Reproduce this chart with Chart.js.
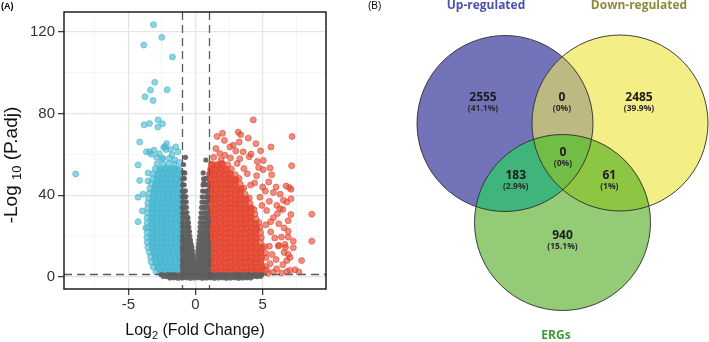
<!DOCTYPE html>
<html>
<head>
<meta charset="utf-8">
<title>DEGs and ERGs</title>
<script src="https://cdn.jsdelivr.net/npm/chart.js@4.4.1/dist/chart.umd.min.js"></script>
<style>
    html, body { margin: 0; padding: 0; background: #fff; }
    #wrap { position: relative; width: 709px; height: 342px; }
    #volcanoBox { position: absolute; left: 0; top: 0; width: 360px; height: 342px; }
    #vennBox { position: absolute; left: 360px; top: 0; width: 349px; height: 342px; }
</style>
</head>
<body>
<div id="wrap">
    <div id="volcanoBox"><canvas id="volcano"></canvas></div>
    <div id="vennBox"><canvas id="venn"></canvas></div>
</div>
<script>
// ---- volcano plot: [log2 fold change, -log10 adjusted p] ----
// up-regulated, scattered around the edge of the cloud
const upGenes = [
    [4.3,76.8],[7.19,68.7],[1.61,68.7],[2.01,70.3],[3.18,70.8],[3.36,69.6],[3.93,67.9],[4.5,65.2],
    [5.62,63.6],[2.81,64.4],[3.25,66.0],[2.56,63.6],[1.51,62.8],[1.81,60.4],[4.85,61.7],[4.13,60.1],
    [3.55,61.2],[3.0,61.6],[5.05,57.0],[7.16,54.4],[2.2,59.5],[1.35,58.5],[2.6,58.2],[3.3,57.8],
    [4.0,58.8],[1.9,57.2],[4.6,56.5],[2.15,66.8],
    [5.67,50.0],[5.45,46.5],[6.0,44.0],[6.74,44.5],[7.11,42.9],[7.11,38.2],[6.3,40.5],[5.8,41.3],
    [6.05,35.0],[5.5,37.0],[6.5,33.0],[7.1,30.5],[6.9,27.5],[6.2,26.0],[5.8,29.0],[6.6,24.0],
    [7.28,17.5],[7.28,14.3],[7.04,9.5],[6.6,12.0],[6.2,15.5],[5.9,19.0],[5.6,22.0],[6.4,19.5],
    [6.0,8.5],[5.7,11.0],[6.5,6.0],[6.04,4.0],[6.8,2.6],[6.4,1.9],[7.41,3.5],[7.9,8.0],
    [8.66,17.5],[8.66,30.7],[5.04,52.5],[4.7,53.5],[4.55,49.5],[4.4,46.0],[5.0,44.0],[4.8,39.0],
    [5.3,32.5],[5.6,27.0],[5.5,15.0],[5.55,6.5],[5.3,3.3],[7.7,2.4],[5.8,2.3],[3.85,50.5],
    [3.6,53.0],[4.1,45.0],[4.95,35.0],[5.25,25.5],[3.1,55.5],[6.7,14.5],[6.1,31.0],[6.9,19.5],
    [6.55,37.5],[5.2,42.0],[6.99,43.7],[5.55,53.3],[6.8,36.6],[6.3,33.4],[6.9,22.3],[6.66,15.9],
    [6.17,15.1],[6.9,11.1],[6.8,8.0],[7.04,3.2],[5.4,1.8],
    [5.2,5.1],[5.25,9.4],[5.22,11.7],[5.15,14.8],[4.85,16.8],[4.9,19.2],[4.85,21.6],[4.8,24.2],
    [4.72,26.6],[4.5,28.4],[4.42,30.8],[4.35,33.0],[4.05,36.1],[4.0,38.6],[3.7,40.5],[3.6,43.5],
    [3.33,45.5],[3.25,48.2],[2.96,50.0],[2.67,52.8],[2.4,54.9]
];
// up-regulated, packed body of the cloud
const upCore = [
    [1.08,2.3],[1.45,2.1],[1.82,2.6],[2.2,2.2],[2.6,2.5],[2.98,2.0],[3.35,2.4],[3.72,2.2],[4.1,2.7],[4.48,2.1],[4.9,2.5],
    [1.12,4.8],[1.5,4.4],[1.88,4.9],[2.25,4.5],[2.64,4.7],[3.02,4.3],[3.4,4.8],[3.78,4.5],[4.16,4.9],[4.55,4.4],[4.95,4.7],
    [1.05,7.1],[1.42,6.8],[1.8,7.3],[2.18,6.9],[2.56,7.2],[2.95,6.8],[3.33,7.1],[3.7,6.9],[4.08,7.3],[4.47,6.8],[4.85,7.2],
    [1.1,9.5],[1.48,9.2],[1.86,9.7],[2.24,9.3],[2.62,9.6],[3.0,9.2],[3.38,9.5],[3.76,9.3],[4.14,9.7],[4.52,9.2],[4.9,9.6],
    [1.06,11.9],[1.44,11.6],[1.82,12.0],[2.2,11.7],[2.58,12.1],[2.96,11.6],[3.34,11.9],[3.72,11.7],[4.1,12.1],[4.48,11.6],[4.86,12.0],
    [1.12,14.3],[1.5,14.0],[1.88,14.5],[2.26,14.1],[2.64,14.4],[3.02,14.0],[3.4,14.3],[3.78,14.1],[4.16,14.5],[4.54,14.0],[4.92,14.4],
    [1.05,16.7],[1.43,16.4],[1.81,16.9],[2.19,16.5],[2.57,16.8],[2.95,16.4],[3.33,16.7],[3.71,16.5],[4.09,16.9],[4.47,16.4],
    [1.1,19.1],[1.48,18.8],[1.86,19.3],[2.24,18.9],[2.62,19.2],[3.0,18.8],[3.38,19.1],[3.76,18.9],[4.14,19.3],[4.52,18.8],
    [1.06,21.5],[1.44,21.2],[1.82,21.7],[2.2,21.3],[2.58,21.6],[2.96,21.2],[3.34,21.5],[3.72,21.3],[4.1,21.7],[4.48,21.2],
    [1.12,23.9],[1.5,23.6],[1.88,24.1],[2.26,23.7],[2.64,24.0],[3.02,23.6],[3.4,23.9],[3.78,23.7],[4.16,24.1],[4.54,23.6],
    [1.05,26.3],[1.43,26.0],[1.81,26.5],[2.19,26.1],[2.57,26.4],[2.95,26.0],[3.33,26.3],[3.71,26.1],[4.09,26.5],[4.47,26.0],
    [1.1,28.7],[1.48,28.4],[1.86,28.9],[2.24,28.5],[2.62,28.8],[3.0,28.4],[3.38,28.7],[3.76,28.5],[4.14,28.9],
    [1.06,31.1],[1.44,30.8],[1.82,31.3],[2.2,30.9],[2.58,31.2],[2.96,30.8],[3.34,31.1],[3.72,30.9],[4.1,31.3],
    [1.12,33.5],[1.5,33.2],[1.88,33.7],[2.26,33.3],[2.64,33.6],[3.02,33.2],[3.4,33.5],[3.78,33.3],[4.15,33.7],
    [1.05,35.9],[1.43,35.6],[1.81,36.1],[2.19,35.7],[2.57,36.0],[2.95,35.6],[3.33,35.9],[3.71,35.7],
    [1.1,38.3],[1.48,38.0],[1.86,38.5],[2.24,38.1],[2.62,38.4],[3.0,38.0],[3.38,38.3],[3.76,38.1],
    [1.06,40.7],[1.44,40.4],[1.82,40.9],[2.2,40.5],[2.58,40.8],[2.96,40.4],[3.34,40.7],
    [1.12,43.1],[1.5,42.8],[1.88,43.3],[2.26,42.9],[2.64,43.2],[3.02,42.8],[3.4,43.1],
    [1.05,45.5],[1.43,45.2],[1.81,45.7],[2.19,45.3],[2.57,45.6],[2.95,45.2],
    [1.1,47.9],[1.48,47.6],[1.86,48.1],[2.24,47.7],[2.62,48.0],[3.0,47.6],
    [1.06,50.3],[1.44,50.0],[1.82,50.5],[2.2,50.1],[2.58,50.4],
    [1.15,52.7],[1.53,52.4],[1.91,52.9],[2.29,52.5],
    [1.2,55.1],[1.6,54.8],[1.98,55.3]
];

// down-regulated, outliers and the ragged edge
const downGenes = [
    [-3.13,123.4],[-2.51,117.2],[-3.86,113.4],[-1.72,107.6],[-3.04,95.2],[-3.36,91.4],[-2.12,91.6],
    [-3.76,88.2],[-3.16,86.3],[-3.43,75.0],[-3.83,74.4],[-2.79,76.8],[-2.46,74.9],[-2.81,73.3],
    [-4.16,66.0],[-8.93,50.4],[-3.09,62.0],[-3.66,61.2],[-3.3,60.0],[-2.37,63.3],[-2.16,65.2],
    [-1.47,63.6],[-2.51,57.6],[-1.3,61.2],[-4.28,54.8],[-4.16,47.2],[-4.28,39.0],[-3.91,40.5],
    [-3.96,32.3],[-4.28,27.0],[-3.7,24.0],[-3.54,46.9],[-3.54,50.9],[-2.2,62.3],[-2.28,63.8],
    [-1.75,59.8],[-1.55,57.2],[-2.9,58.5],[-1.95,58.0],[-1.2,56.0],[-2.7,60.2],[-1.85,62.4],
    [-3.41,61.2],[-2.42,58.0],
    [-2.95,2.5],[-3.15,4.9],[-3.3,7.3],[-3.35,9.7],[-3.45,12.1],[-3.55,14.5],[-3.6,16.9],
    [-3.62,19.3],[-3.6,21.7],[-3.58,24.1],[-3.6,26.5],[-3.62,28.9],[-3.58,31.3],[-3.56,33.7],
    [-3.55,36.1],[-3.5,38.5],[-3.45,40.9],[-3.4,43.3],[-3.3,45.7],[-3.2,48.1],[-3.15,50.5],
    [-3.0,52.9],[-2.85,55.4],[-2.4,55.0],[-2.0,55.5],[-1.6,55.1]
];
// down-regulated, packed body
const downCore = [
    [-2.6,2.2],[-2.24,2.6],[-1.88,2.3],[-1.52,2.6],[-1.16,2.2],
    [-2.8,4.6],[-2.44,5.0],[-2.08,4.7],[-1.72,5.0],[-1.36,4.6],[-1.06,4.9],
    [-2.94,7.0],[-2.58,7.4],[-2.22,7.1],[-1.86,7.4],[-1.5,7.0],[-1.14,7.3],
    [-3.0,9.4],[-2.64,9.8],[-2.28,9.5],[-1.92,9.8],[-1.56,9.4],[-1.2,9.7],
    [-3.1,11.8],[-2.74,12.2],[-2.38,11.9],[-2.02,12.2],[-1.66,11.8],[-1.3,12.1],[-1.05,11.9],
    [-3.2,14.2],[-2.84,14.6],[-2.48,14.3],[-2.12,14.6],[-1.76,14.2],[-1.4,14.5],[-1.08,14.3],
    [-3.25,16.6],[-2.9,17.0],[-2.54,16.7],[-2.18,17.0],[-1.82,16.6],[-1.46,16.9],[-1.1,16.7],
    [-3.27,19.0],[-2.92,19.4],[-2.56,19.1],[-2.2,19.4],[-1.84,19.0],[-1.48,19.3],[-1.12,19.1],
    [-3.24,21.4],[-2.88,21.8],[-2.52,21.5],[-2.16,21.8],[-1.8,21.4],[-1.44,21.7],[-1.08,21.5],
    [-3.22,23.8],[-2.86,24.2],[-2.5,23.9],[-2.14,24.2],[-1.78,23.8],[-1.42,24.1],[-1.06,23.9],
    [-3.25,26.2],[-2.9,26.6],[-2.54,26.3],[-2.18,26.6],[-1.82,26.2],[-1.46,26.5],[-1.1,26.3],
    [-3.27,28.6],[-2.92,29.0],[-2.56,28.7],[-2.2,29.0],[-1.84,28.6],[-1.48,28.9],[-1.12,28.7],
    [-3.22,31.0],[-2.86,31.4],[-2.5,31.1],[-2.14,31.4],[-1.78,31.0],[-1.42,31.3],[-1.06,31.1],
    [-3.2,33.4],[-2.84,33.8],[-2.48,33.5],[-2.12,33.8],[-1.76,33.4],[-1.4,33.7],[-1.08,33.5],
    [-3.2,35.8],[-2.84,36.2],[-2.48,35.9],[-2.12,36.2],[-1.76,35.8],[-1.4,36.1],[-1.06,35.9],
    [-3.15,38.2],[-2.8,38.6],[-2.44,38.3],[-2.08,38.6],[-1.72,38.2],[-1.36,38.5],[-1.08,38.3],
    [-3.1,40.6],[-2.74,41.0],[-2.38,40.7],[-2.02,41.0],[-1.66,40.6],[-1.3,40.9],[-1.06,40.7],
    [-3.05,43.0],[-2.7,43.4],[-2.34,43.1],[-1.98,43.4],[-1.62,43.0],[-1.26,43.3],
    [-2.95,45.4],[-2.6,45.8],[-2.24,45.5],[-1.88,45.8],[-1.52,45.4],[-1.18,45.7],
    [-2.85,47.8],[-2.5,48.2],[-2.14,47.9],[-1.78,48.2],[-1.42,47.8],[-1.12,48.1],
    [-2.8,50.2],[-2.44,50.6],[-2.08,50.3],[-1.72,50.6],[-1.36,50.2],
    [-2.64,52.6],[-2.28,53.0],[-1.92,52.7],[-1.56,53.0],[-1.25,52.6]
];

// not significant
const nsGenes = [
    // left arm of the V
    [-0.98,2.0],[-0.76,2.1],[-0.54,1.9],[-0.32,2.0],[-0.1,2.2],
    [-0.95,3.6],[-0.73,3.5],[-0.51,3.7],[-0.29,3.6],[-0.07,3.8],
    [-0.98,5.4],[-0.76,5.3],[-0.54,5.5],[-0.32,5.4],[-0.1,5.6],
    [-0.96,7.2],[-0.74,7.1],[-0.52,7.3],[-0.3,7.2],[-0.14,7.4],
    [-0.98,9.0],[-0.76,8.9],[-0.54,9.1],[-0.32,9.0],[-0.18,9.2],
    [-0.95,10.8],[-0.73,10.7],[-0.51,10.9],[-0.3,10.8],[-0.2,11.0],
    [-0.97,12.6],[-0.75,12.5],[-0.53,12.7],[-0.32,12.6],[-0.24,12.9],
    [-0.98,14.4],[-0.76,14.3],[-0.54,14.5],[-0.33,14.4],[-0.28,14.8],
    [-0.96,16.2],[-0.74,16.1],[-0.52,16.3],[-0.34,16.2],
    [-0.97,18.0],[-0.75,17.9],[-0.53,18.1],[-0.38,18.0],
    [-0.98,20.0],[-0.76,19.9],[-0.56,20.1],[-0.42,20.0],
    [-0.96,22.2],[-0.74,22.1],[-0.55,22.3],[-0.45,22.2],
    [-0.97,24.4],[-0.76,24.3],[-0.58,24.5],[-0.5,24.4],
    [-0.98,26.6],[-0.78,26.5],[-0.6,26.7],[-0.53,26.6],
    [-0.96,29.0],[-0.78,28.9],[-0.62,29.1],[-0.57,29.0],
    [-0.97,31.4],[-0.8,31.3],[-0.65,31.5],
    [-0.98,34.0],[-0.82,33.9],[-0.68,34.1],
    [-0.96,36.6],[-0.82,36.5],[-0.7,36.7],
    [-0.97,39.2],[-0.84,39.1],[-0.73,39.3],
    [-0.98,42.0],[-0.86,41.9],[-0.76,42.1],
    [-0.96,45.0],[-0.85,45.1],[-0.95,48.0],[-0.84,48.2],
    [-0.93,51.0],[-0.9,55.0],[-0.75,58.5],[-0.8,50.9],
    // right arm of the V
    [0.08,2.0],[0.3,2.1],[0.52,1.9],[0.74,2.0],[0.96,2.2],
    [0.06,3.6],[0.28,3.5],[0.5,3.7],[0.72,3.6],[0.94,3.8],
    [0.09,5.4],[0.31,5.3],[0.53,5.5],[0.75,5.4],[0.97,5.6],
    [0.1,7.2],[0.32,7.1],[0.54,7.3],[0.76,7.2],[0.98,7.4],
    [0.13,9.0],[0.35,8.9],[0.57,9.1],[0.79,9.0],[0.97,9.2],
    [0.16,10.8],[0.37,10.7],[0.58,10.9],[0.8,10.8],[0.98,11.0],
    [0.18,12.6],[0.39,12.5],[0.6,12.7],[0.8,12.6],[0.96,12.8],
    [0.2,14.4],[0.41,14.3],[0.62,14.5],[0.82,14.4],[0.98,14.6],
    [0.23,16.2],[0.44,16.1],[0.64,16.3],[0.84,16.2],[0.97,16.4],
    [0.26,18.0],[0.46,17.9],[0.66,18.1],[0.85,18.0],
    [0.29,20.0],[0.49,19.9],[0.69,20.1],[0.88,20.0],
    [0.31,22.2],[0.51,22.1],[0.71,22.3],[0.9,22.2],
    [0.34,24.4],[0.54,24.3],[0.73,24.5],[0.92,24.4],
    [0.36,26.6],[0.56,26.5],[0.76,26.7],[0.94,26.6],
    [0.39,29.0],[0.58,28.9],[0.78,29.1],[0.95,29.0],
    [0.42,31.4],[0.62,31.3],[0.81,31.5],
    [0.45,34.0],[0.65,33.9],[0.84,34.1],
    [0.48,36.6],[0.68,36.5],[0.86,36.7],
    [0.5,39.2],[0.7,39.1],[0.88,39.3],
    [0.53,42.0],[0.73,41.9],[0.9,42.1],
    [0.56,45.0],[0.76,45.1],[0.6,48.0],[0.78,48.2],
    [0.57,50.9],[0.77,57.2],[0.62,46.0],
    // band along the bottom
    [-2.55,1.1],[-2.3,0.9],[-2.05,1.2],[-1.8,1.0],[-1.55,1.2],[-1.3,0.9],[-1.05,1.1],[-0.8,1.2],
    [-0.55,0.9],[-0.3,1.1],[-0.05,1.2],[0.2,1.0],[0.45,1.2],[0.7,0.9],[0.95,1.1],[1.2,1.2],
    [1.45,0.9],[1.7,1.1],[1.95,1.2],[2.2,1.0],[2.45,1.2],[2.7,0.9],[2.95,1.1],[3.2,1.2],
    [3.45,1.0],[3.7,1.1],[3.95,1.2],[4.2,0.9],[4.45,1.1],[4.7,1.0],[4.95,1.2],
    [-2.4,0.3],[-2.15,0.2],[-1.9,0.4],[-1.65,0.3],[-1.4,0.2],[-1.15,0.4],[-0.9,0.3],[-0.65,0.2],
    [-0.4,0.4],[-0.15,0.3],[0.1,0.2],[0.35,0.4],[0.6,0.3],[0.85,0.2],[1.1,0.4],[1.35,0.3],
    [1.6,0.2],[1.85,0.4],[2.1,0.3],[2.35,0.2],[2.6,0.4],[2.85,0.3],[3.1,0.2],[3.35,0.4],
    [3.6,0.3],[3.85,0.2],[4.1,0.4],[4.35,0.3],[4.6,0.2],[4.85,0.3],
    [-1.9,-0.5],[-1.6,-0.4],[-1.3,-0.6],[-1.0,-0.5],[-0.7,-0.4],[-0.4,-0.6],[-0.1,-0.5],[0.2,-0.4],
    [0.5,-0.6],[0.8,-0.5],[1.1,-0.4],[1.4,-0.6],[1.7,-0.5],[2.0,-0.4],[2.3,-0.6],[2.6,-0.5],
    [2.9,-0.4],[3.2,-0.6],[3.5,-0.5],[3.8,-0.4],[4.1,-0.5]
];

const xTicks = [-7.5, -5, -2.5, 0, 2.5, 5, 7.5];
const xLabelled = [-5, 0, 5];
const yTicks = [0, 20, 40, 60, 80, 100, 120];
const yLabelled = [0, 40, 80, 120];
const fcCutoff = 1;       // |log2 FC|
const padjCutoff = 1.3;   // -log10(0.05)

// ---- venn diagram ----
const vennSets = ['Up-regulated', 'Down-regulated', 'ERGs'];
const vennRegions = ['Up', 'Down', 'ERGs', 'Up&Down', 'Up&ERGs', 'Down&ERGs', 'Up&Down&ERGs'];
const vennCounts = [2555, 2485, 940, 0, 183, 61, 0];

const toPoints = arr => arr.map(p => ({ x: p[0], y: p[1] }));

function gridColour(labelled) {
    return ctx => labelled.includes(ctx.tick && ctx.tick.value) ? '#e5e5e5' : '#f1f1f1';
}
function gridWidth(labelled) {
    return ctx => labelled.includes(ctx.tick && ctx.tick.value) ? 1.3 : 0.7;
}
function tickColour(labelled) {
    return ctx => labelled.includes(ctx.tick && ctx.tick.value) ? '#333' : 'rgba(0,0,0,0)';
}

// text with one subscript piece, drawn left to right from (x, y) baseline
function drawSubText(ctx, parts, x, y, align) {
    let total = 0;
    parts.forEach(p => { ctx.font = p.font; p.w = ctx.measureText(p.text).width; total += p.w; });
    let cx = align === 'center' ? x - total / 2 : x;
    ctx.textAlign = 'left';
    ctx.textBaseline = 'alphabetic';
    parts.forEach(p => {
        ctx.font = p.font;
        ctx.fillText(p.text, cx, y + (p.dy || 0));
        cx += p.w;
    });
}

const volcanoDecor = {
    id: 'volcanoDecor',
    afterDatasetsDraw(chart) {
        const { ctx, chartArea: a, scales: { x, y } } = chart;
        ctx.save();
        ctx.strokeStyle = '#585858';
        ctx.lineWidth = 1.3;
        ctx.setLineDash([8, 5]);
        [-fcCutoff, fcCutoff].forEach(v => {
            const px = Math.round(x.getPixelForValue(v)) + 0.5;
            ctx.beginPath(); ctx.moveTo(px, a.top); ctx.lineTo(px, a.bottom); ctx.stroke();
        });
        const py = Math.round(y.getPixelForValue(padjCutoff)) + 0.5;
        ctx.beginPath(); ctx.moveTo(a.left, py); ctx.lineTo(a.right, py); ctx.stroke();
        ctx.setLineDash([]);

        // panel frame
        ctx.strokeStyle = '#111';
        ctx.lineWidth = 1.4;
        ctx.strokeRect(a.left, a.top, a.right - a.left, a.bottom - a.top);

        ctx.fillStyle = '#111';
        drawSubText(ctx, [
            { text: 'Log', font: '16px "Liberation Sans", Arial, sans-serif' },
            { text: '2', font: '11px "Liberation Sans", Arial, sans-serif', dy: 4 },
            { text: ' (Fold Change)', font: '16px "Liberation Sans", Arial, sans-serif' }
        ], (a.left + a.right) / 2, 335, 'center');

        ctx.translate(17, 165);
        ctx.rotate(-Math.PI / 2);
        drawSubText(ctx, [
            { text: '-Log ', font: '19px "Liberation Sans", Arial, sans-serif' },
            { text: '10', font: '13px "Liberation Sans", Arial, sans-serif', dy: 4 },
            { text: ' (P.adj)', font: '19px "Liberation Sans", Arial, sans-serif' }
        ], 0, 0, 'center');
        ctx.restore();

        ctx.save();
        ctx.fillStyle = '#000';
        ctx.font = 'bold 9px "Liberation Sans", Arial, sans-serif';
        ctx.textAlign = 'left';
        ctx.textBaseline = 'top';
        ctx.fillText('(A)', 1, 2);
        ctx.restore();
    }
};

// loose points keep a visible ring; packed ones blend into a solid cloud
const looseDots = rgb => ({
    pointRadius: 3, pointHoverRadius: 3,
    backgroundColor: `rgba(${rgb},0.62)`,
    borderColor: `rgba(${rgb},0.8)`,
    borderWidth: 0.8
});
const packedDots = rgb => ({
    pointRadius: 3.4, pointHoverRadius: 3.4,
    backgroundColor: `rgba(${rgb},0.92)`,
    borderColor: `rgba(${rgb},0.92)`,
    borderWidth: 0.5
});
const red = '228,72,50';
const blue = '74,183,209';

new Chart(document.getElementById('volcano'), {
    type: 'scatter',
    data: {
        datasets: [
            // grey sits on top so the V stays visible inside the cut-off lines
            {
                label: 'NS', data: toPoints(nsGenes), order: 0,
                pointRadius: 2.6, pointHoverRadius: 2.6,
                backgroundColor: 'rgba(96,96,96,0.95)', borderWidth: 0
            },
            Object.assign({ label: 'Up', data: toPoints(upGenes), order: 1 }, looseDots(red)),
            Object.assign({ label: 'Up core', data: toPoints(upCore), order: 2 }, packedDots(red)),
            Object.assign({ label: 'Down', data: toPoints(downGenes), order: 3 }, looseDots(blue)),
            Object.assign({ label: 'Down core', data: toPoints(downCore), order: 4 }, packedDots(blue))
        ]
    },
    options: {
        responsive: true,
        maintainAspectRatio: false,
        animation: false,
        devicePixelRatio: 1,
        layout: { padding: { top: 5, right: 34, left: 0, bottom: 0 } },
        plugins: { legend: { display: false }, tooltip: { enabled: false } },
        scales: {
            x: {
                type: 'linear', min: -9.8, max: 9.72,
                afterBuildTicks: s => { s.ticks = xTicks.map(v => ({ value: v })); },
                afterFit: s => { s.height = 53; },
                border: { display: false },
                grid: { color: gridColour(xLabelled), lineWidth: gridWidth(xLabelled), tickColor: tickColour(xLabelled), tickLength: 6, tickWidth: 1.2 },
                ticks: {
                    autoSkip: false, maxRotation: 0, padding: 1, color: '#333',
                    font: { family: '"Liberation Sans", Arial, sans-serif', size: 15 },
                    callback: v => xLabelled.includes(v) ? String(v) : ''
                }
            },
            y: {
                type: 'linear', min: -5.9, max: 129.6,
                afterBuildTicks: s => { s.ticks = yTicks.map(v => ({ value: v })); },
                afterFit: s => { s.width = 64; },
                border: { display: false },
                grid: { color: gridColour(yLabelled), lineWidth: gridWidth(yLabelled), tickColor: tickColour(yLabelled), tickLength: 6, tickWidth: 1.2 },
                ticks: {
                    autoSkip: false, padding: 3, color: '#333',
                    font: { family: '"Liberation Sans", Arial, sans-serif', size: 15 },
                    callback: v => yLabelled.includes(v) ? String(v) : ''
                }
            }
        }
    },
    plugins: [volcanoDecor]
});

// ---- venn: three equal circles, each region filled with its own colour ----
const vennDraw = {
    id: 'vennDraw',
    afterDraw(chart) {
        const { ctx, scales: { x, y } } = chart;
        const circle = c => ({
            cx: x.getPixelForValue(c[0]),
            cy: y.getPixelForValue(c[1]),
            r: x.getPixelForValue(c[0] + c[2]) - x.getPixelForValue(c[0])
        });
        const up = circle([145, 123.5, 88]);
        const down = circle([260, 123, 88]);
        const ergs = circle([202.5, 222.5, 88]);
        const path = c => { ctx.beginPath(); ctx.arc(c.cx, c.cy, c.r, 0, Math.PI * 2); };
        const fillRegion = (circles, colour) => {
            ctx.save();
            circles.slice(0, -1).forEach(c => { path(c); ctx.clip(); });
            path(circles[circles.length - 1]);
            ctx.fillStyle = colour;
            ctx.fill();
            ctx.restore();
        };

        fillRegion([up], '#7373b9');
        fillRegion([down], '#f4ee86');
        fillRegion([ergs], '#93cb76');
        fillRegion([up, down], '#bdb983');
        fillRegion([up, ergs], '#3fb57b');
        fillRegion([down, ergs], '#8dc642');
        fillRegion([up, down, ergs], '#72bd46');

        ctx.save();
        ctx.strokeStyle = '#2b2b2b';
        ctx.lineWidth = 0.9;
        [up, down, ergs].forEach(c => { path(c); ctx.stroke(); });
        ctx.restore();

        // region label anchors, same order as vennRegions
        const anchors = [[123, 98], [279, 98], [202.5, 236], [202, 98], [155.7, 176], [249.3, 176], [203, 153]];
        const total = vennCounts.reduce((s, v) => s + v, 0);
        ctx.save();
        ctx.textAlign = 'center';
        ctx.textBaseline = 'middle';
        vennCounts.forEach((n, i) => {
            const px = x.getPixelForValue(anchors[i][0]);
            const py = y.getPixelForValue(anchors[i][1]);
            const pct = (n / total * 100).toFixed(1).replace(/\.0$/, '') + '%';
            ctx.fillStyle = '#1c1c1c';
            ctx.font = 'bold 12px "Open Sans", "DejaVu Sans", sans-serif';
            ctx.fillText(String(n), px, py);
            ctx.fillStyle = '#2a2a2a';
            ctx.font = 'bold 8.5px "Open Sans", "DejaVu Sans", sans-serif';
            ctx.fillText('(' + pct + ')', px, py + 10.5);
        });

        const titles = [[126, 6, '#4b50b0'], [279, 6, '#8c8b3c'], [196, 336, '#3c9b3c']];
        ctx.font = 'bold 12px "Open Sans", "DejaVu Sans", sans-serif';
        vennSets.forEach((name, i) => {
            ctx.fillStyle = titles[i][2];
            ctx.fillText(name, x.getPixelForValue(titles[i][0]), y.getPixelForValue(titles[i][1]));
        });

        ctx.fillStyle = '#000';
        ctx.font = '10px "Liberation Sans", Arial, sans-serif';
        ctx.textAlign = 'left';
        ctx.fillText('(B)', x.getPixelForValue(8), y.getPixelForValue(6));
        ctx.restore();
    }
};

new Chart(document.getElementById('venn'), {
    type: 'scatter',
    data: { datasets: [{ data: [] }] },
    options: {
        responsive: true,
        maintainAspectRatio: false,
        animation: false,
        devicePixelRatio: 1,
        layout: { padding: 0 },
        plugins: { legend: { display: false }, tooltip: { enabled: false } },
        scales: {
            x: { type: 'linear', min: 0, max: 349, display: false },
            y: { type: 'linear', min: 0, max: 342, reverse: true, display: false }
        }
    },
    plugins: [vennDraw]
});
</script>
</body>
</html>
